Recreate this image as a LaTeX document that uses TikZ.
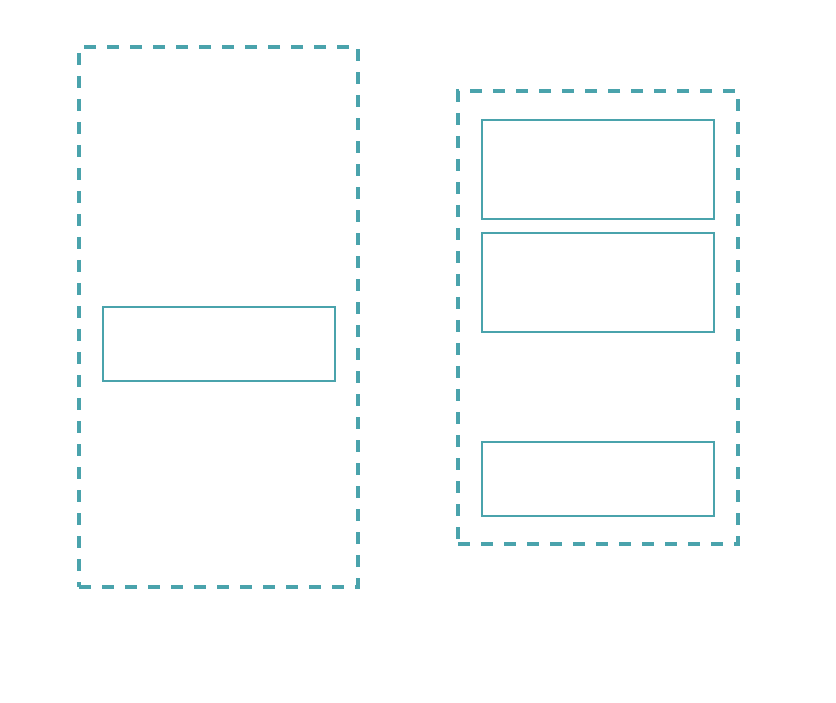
\documentclass[tikz,border=0pt]{standalone}
\usetikzlibrary{positioning}
\definecolor{tealline}{RGB}{74,163,172}
\tikzset{
  group/.style={draw=tealline, line width=3.2pt, dash pattern=on 12pt off 11pt, rectangle, inner sep=0pt, outer sep=0pt},
  itembox/.style={draw=tealline, line width=2.2pt, rectangle, inner sep=0pt, outer sep=0pt}
}
\begin{document}
\begin{tikzpicture}[x=1pt,y=-1pt]
\useasboundingbox (0,0) rectangle (836,703);
\node[group, minimum width=279pt, minimum height=540pt] (leftgroup) at (218.5,317) {};
\node[itembox, minimum width=232pt, minimum height=74pt] (leftbox) at (219,344) {};
\node[group, minimum width=280pt, minimum height=453pt] (rightgroup) at (598,317.5) {};
\node[itembox, minimum width=232pt, minimum height=99pt] (rbox1) at (598,169.5) {};
\node[itembox, minimum width=232pt, minimum height=99pt] (rbox2) at (598,282.5) {};
\node[itembox, minimum width=232pt, minimum height=74pt] (rbox3) at (598,479) {};
\end{tikzpicture}
\end{document}
